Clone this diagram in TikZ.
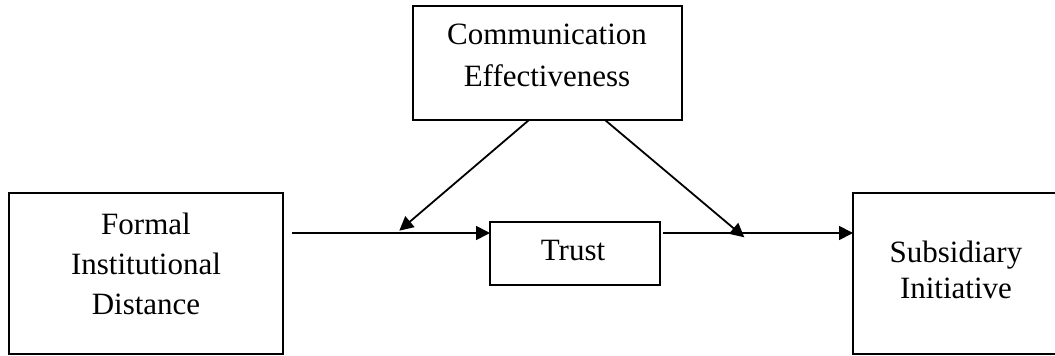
\documentclass[tikz,border=0pt]{standalone}
\usepackage{fontspec}
\setmainfont{Liberation Serif}
\usetikzlibrary{arrows.meta,calc}

\begin{document}
\begin{tikzpicture}[x=1pt,y=-1pt,
  box/.style={draw,line width=2pt,inner sep=0pt,outer sep=0pt},
  lbl/.style={inner sep=0pt,align=center},
  arr/.style={line width=1.8pt,-{Triangle[length=14pt,width=14pt]}}]
\clip (0,0) rectangle (1055,356);

% boxes
\node[box,minimum width=269pt,minimum height=114pt] (comm) at (547.5,63) {};
\node[box,minimum width=274pt,minimum height=161pt] (fid) at (146,273.5) {};
\node[box,minimum width=170pt,minimum height=63pt] (trust) at (575,253.5) {};
\node[box,minimum width=206pt,minimum height=161pt] (sub) at (956,273.5) {};

% labels
\node[lbl,font=\fontsize{31}{42}\selectfont] (commtxt) at (547,55.4) {Communication\\Effectiveness};
\node[lbl,font=\fontsize{31}{40}\selectfont] (fidtxt) at (146,263.4) {Formal\\Institutional\\Distance};
\node[lbl,font=\fontsize{31}{36}\selectfont] (trusttxt) at (573,250.7) {Trust};
\node[lbl,font=\fontsize{31}{36}\selectfont] (subtxt) at (956,269.4) {Subsidiary\\Initiative};

% connector points
\coordinate (s1) at (292,233);
\coordinate (m1) at (399.3,230.7);
\coordinate (s2) at (663,233);
\coordinate (m2) at (744.3,237.3);

% main path
\draw[arr] (s1) -- (s1 -| trust.west);
\draw[arr] (s2) -- (s2 -| sub.west);

% moderating effects
\draw[arr] ([xshift=-18.5pt]comm.south) -- (m1);
\draw[arr] ([xshift=57.5pt]comm.south) -- (m2);
\end{tikzpicture}
\end{document}
